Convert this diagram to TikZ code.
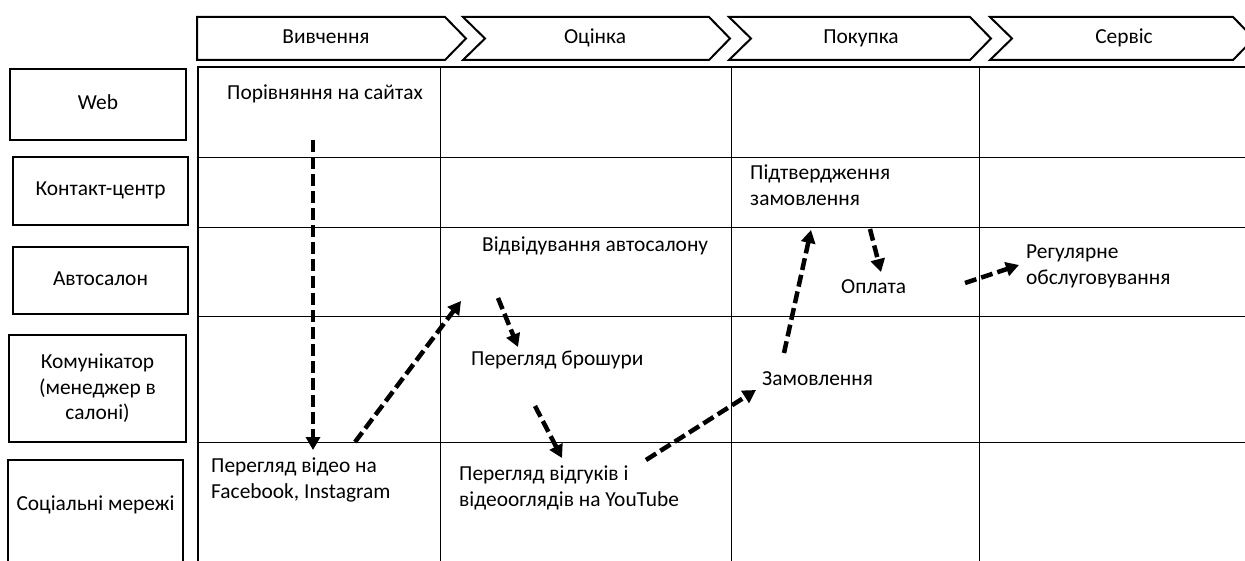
\documentclass[tikz,border=0pt]{standalone}
\usepackage{fontspec}
\setmainfont{Carlito}
\usetikzlibrary{arrows.meta}
\newcommand{\fsz}{\fontsize{21.4}{25.5}\selectfont}
\begin{document}
\begin{tikzpicture}[x=1pt,y=-1pt,
  lbl/.style={draw, line width=2pt, align=center, inner sep=0pt, font=\fsz},
  one/.style={text height=14pt, text depth=4pt},
  txt/.style={anchor=west, align=left, inner sep=0pt, font=\fsz},
  ctxt/.style={inner sep=0pt, font=\fsz, one},
  chv/.style={draw, line width=2pt, line join=miter},
  flow/.style={line width=4.5pt, dash pattern=on 12pt off 5pt, -{Triangle[length=13pt,width=14pt]}},
  gridline/.style={line width=1pt},
  outer/.style={line width=2pt},
]
\useasboundingbox (0,0) rectangle (1245,561);
\fill[white] (0,0) rectangle (1245,561);
\clip (0,0) rectangle (1245,561);

% chevrons
\draw[chv] (197,17) -- (445,17) -- (466,38.5) -- (445,60) -- (197,60) -- cycle;
\draw[chv] (463,17) -- (709,17) -- (730,38.5) -- (709,60) -- (463,60) -- (485,38.5) -- cycle;
\draw[chv] (729,17) -- (970,17) -- (991,38.5) -- (970,60) -- (729,60) -- (751,38.5) -- cycle;
\draw[chv] (990,17) -- (1233,17) -- (1254,38.5) -- (1233,60) -- (990,60) -- (1012,38.5) -- cycle;
\node[ctxt] (s1) at (326,38.5) {Вивчення};
\node[ctxt] (s2) at (595,38.5) {Оцінка};
\node[ctxt] (s3) at (861,38.5) {Покупка};
\node[ctxt] (s4) at (1124,38.5) {Сервіс};

% grid
\foreach \x in {440,731,979} \draw[gridline] (\x,67) -- (\x,600);
\foreach \y in {158,228,317,442} \draw[gridline] (198,\y) -- (1300,\y);
\draw[outer] (198,600) -- (198,67) -- (1300,67);

% left labels
\node[lbl, one, minimum width=176pt, minimum height=71pt] (web) at (98,104.5) {Web};
\node[lbl, one, minimum width=175pt, minimum height=68pt] (cc) at (100.5,191) {Контакт-центр};
\node[lbl, one, minimum width=175pt, minimum height=67pt] (salon) at (100.5,281) {Автосалон};
\node[lbl, minimum width=177pt, minimum height=107pt] (comm) at (97.5,388.5) {Комунікатор\\(менеджер в\\салоні)};
\draw[line width=2pt] (8,600) -- (8,460) -- (183,460) -- (183,600);
\node[ctxt] (soc) at (95.5,505) {Соціальні мережі};

% cell texts
\node[txt, one] (t1) at (227,95) {Порівняння на сайтах};
\node[txt, one] (t2) at (482,247) {Відвідування автосалону};
\node[txt] (t3) at (750,185) {Підтвердження\\замовлення};
\node[txt, one] (t4) at (841,289) {Оплата};
\node[txt] (t5) at (1026,266.5) {Регулярне\\обслуговування};
\node[txt, one] (t6) at (471,360) {Перегляд брошури};
\node[txt, one] (t7) at (762,380) {Замовлення};
\node[txt] (t8) at (211,480) {Перегляд відео на\\Facebook, Instagram};
\node[txt] (t9) at (459,488) {Перегляд відгуків і\\відеооглядів на YouTube};

% arrow end points
\coordinate (a1s) at (313,140);  \coordinate (a1e) at (313,450);
\coordinate (a2s) at (355,442);  \coordinate (a2e) at (461,301);
\coordinate (a3s) at (498,298);  \coordinate (a3e) at (518,347);
\coordinate (a4s) at (535,406);  \coordinate (a4e) at (562,458);
\coordinate (a5s) at (646,460);  \coordinate (a5e) at (756,390);
\coordinate (a6s) at (784,353);  \coordinate (a6e) at (811,230);
\coordinate (a7s) at (870,229);  \coordinate (a7e) at (881,272);
\coordinate (a8s) at (965,283);  \coordinate (a8e) at (1019,265);

\foreach \a in {1,...,8} \draw[flow] (a\a s) -- (a\a e);
\end{tikzpicture}
\end{document}
